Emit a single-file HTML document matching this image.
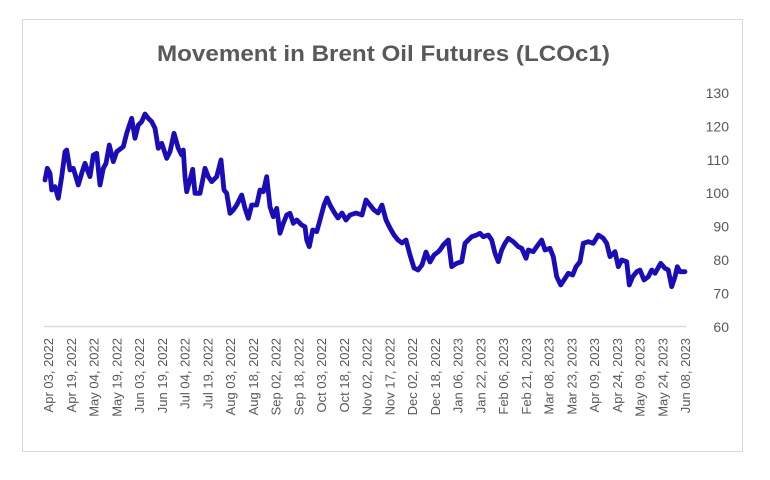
<!DOCTYPE html>
<html><head><meta charset="utf-8"><style>
html,body{margin:0;padding:0;background:#fff;}
svg{display:block;font-family:"Liberation Sans",sans-serif;}
</style></head><body>
<svg width="770" height="480" viewBox="0 0 770 480" xmlns="http://www.w3.org/2000/svg">
<rect x="22.5" y="19.5" width="720" height="432" fill="#fff" stroke="#d9d9d9" stroke-width="1"/>
<text x="157" y="61" font-size="22" font-weight="bold" fill="#595959" textLength="453" lengthAdjust="spacingAndGlyphs">Movement in Brent Oil Futures (LCOc1)</text>
<line x1="44" y1="326.5" x2="686" y2="326.5" stroke="#d9d9d9" stroke-width="1.5"/>
<g font-size="14" fill="#595959" text-anchor="end">
<text x="729" y="98">130</text><text x="729" y="131.4">120</text><text x="729" y="164.8">110</text><text x="729" y="198.2">100</text><text x="729" y="231.6">90</text><text x="729" y="265">80</text><text x="729" y="298.4">70</text><text x="729" y="331.8">60</text>
</g>
<polyline fill="none" stroke="#1a0db8" stroke-width="4.8" stroke-linejoin="round" stroke-linecap="round" points="45,180 47.3,168.3 50,173.3 51.7,190 55,186.7 58.3,198.3 61.7,176.7 65,151.7 66.7,150 70,170 73.3,168.3 78.3,185 81.7,173.3 85,163.3 86.7,168.3 90,176.7 93.3,155 96.7,153.3 100,185 103.3,168.3 106,163.3 109.3,145 113.3,161.7 116.7,151.7 123.3,146.7 126.7,133.3 131.7,118.3 135,138.3 138.3,125 141.7,121.7 145,114 148.3,118.3 151.7,121.7 155,128.3 158.3,148.3 161.7,143.3 166.7,158.3 170,151.7 174,133.3 178.3,148.3 181.7,155 183.3,150 185,176.7 186.7,191.7 190,180 192.7,169.3 195,193.3 200,193.3 202.7,180 205,168.3 208.3,176.7 211.7,181.7 216.7,176.7 221,160 224,190 226.7,193.3 230,213.3 233.3,210 236.7,205 241.7,195 245,208.3 248.3,218.3 251.7,205 256.7,205 260,190 263.3,191.7 266.7,176.7 270,206.7 273.3,216.7 276.7,208.3 280,233.3 283.3,223.3 286.7,215 290,213.3 293.3,223.3 296.7,220 301.7,225 305,226.7 306.7,240 309.3,246.7 312.7,230 316.7,231.7 320,220 324,205 327,198 330,205 334,212 338,218 342,213 346,220 350,215 356,213 362,215 366,200 370,205 374,210 378,213 382,205 386,220 390,228 394,235 398,240 402,243 406,240 410,255 414,268 418,270 422,265 426,252 430,262 434,255 438,252 440,250 443.3,245 448.3,240 451.7,266.7 456.7,263.3 461.7,261.7 465,243.3 468.3,240 471.7,236.7 476.7,235 480,233.3 483.3,236.7 488.3,235 491.7,240 495,253.3 498.3,261.7 501.7,250 505,243.3 508.3,238.3 513.3,241.7 518.3,246.7 521.7,248.3 526,258.3 528.3,250 533.3,251.7 536.7,246.7 541.7,240 545,250 550,248.3 553.3,256.7 556.7,276.7 560.7,285 564,280 568.3,273.3 572.7,275 576,266.7 580,261.7 583.3,243.3 588.3,241.7 593.3,243.3 598.3,235 603.3,238.3 606.7,243.3 610,256.7 615,251.7 618.3,266.7 621.7,260 626.7,261.7 629.3,285 632.7,276.7 636.7,271.7 640,270 644,280 648.3,276.7 651.7,270 655,273.3 660.7,263.3 665,268.3 668.3,270 671.7,286.7 675,276.7 677.3,266.7 680,271.7 685,271.7"/>
<g font-size="13" fill="#595959" text-anchor="end">
<text transform="translate(53,338) rotate(-90)">Apr 03, 2022</text>
<text transform="translate(75.75,338) rotate(-90)">Apr 19, 2022</text>
<text transform="translate(98.5,338) rotate(-90)">May 04, 2022</text>
<text transform="translate(121.25,338) rotate(-90)">May 19, 2022</text>
<text transform="translate(144,338) rotate(-90)">Jun 03, 2022</text>
<text transform="translate(166.75,338) rotate(-90)">Jun 19, 2022</text>
<text transform="translate(189.5,338) rotate(-90)">Jul 04, 2022</text>
<text transform="translate(212.25,338) rotate(-90)">Jul 19, 2022</text>
<text transform="translate(235,338) rotate(-90)">Aug 03, 2022</text>
<text transform="translate(257.75,338) rotate(-90)">Aug 18, 2022</text>
<text transform="translate(280.5,338) rotate(-90)">Sep 02, 2022</text>
<text transform="translate(303.25,338) rotate(-90)">Sep 18, 2022</text>
<text transform="translate(326,338) rotate(-90)">Oct 03, 2022</text>
<text transform="translate(348.75,338) rotate(-90)">Oct 18, 2022</text>
<text transform="translate(371.5,338) rotate(-90)">Nov 02, 2022</text>
<text transform="translate(394.25,338) rotate(-90)">Nov 17, 2022</text>
<text transform="translate(417,338) rotate(-90)">Dec 02, 2022</text>
<text transform="translate(439.75,338) rotate(-90)">Dec 18, 2022</text>
<text transform="translate(462.5,338) rotate(-90)">Jan 06, 2023</text>
<text transform="translate(485.25,338) rotate(-90)">Jan 22, 2023</text>
<text transform="translate(508,338) rotate(-90)">Feb 06, 2023</text>
<text transform="translate(530.75,338) rotate(-90)">Feb 21, 2023</text>
<text transform="translate(553.5,338) rotate(-90)">Mar 08, 2023</text>
<text transform="translate(576.25,338) rotate(-90)">Mar 23, 2023</text>
<text transform="translate(599,338) rotate(-90)">Apr 09, 2023</text>
<text transform="translate(621.75,338) rotate(-90)">Apr 24, 2023</text>
<text transform="translate(644.5,338) rotate(-90)">May 09, 2023</text>
<text transform="translate(667.25,338) rotate(-90)">May 24, 2023</text>
<text transform="translate(690,338) rotate(-90)">Jun 08, 2023</text>
</g>
</svg>
</body></html>
